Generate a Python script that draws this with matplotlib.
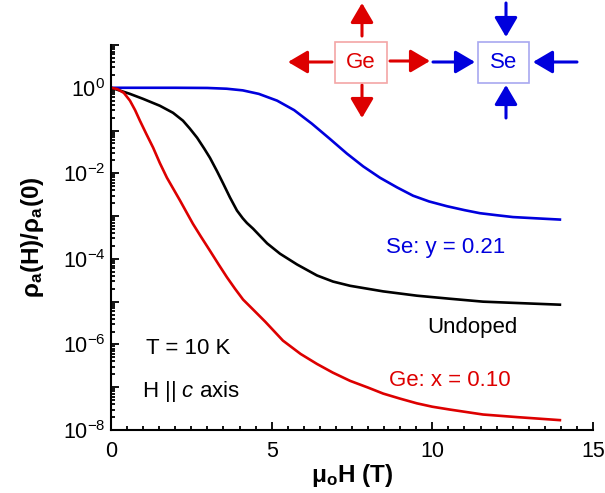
import math
import matplotlib
matplotlib.use("Agg")
import matplotlib.pyplot as plt
from matplotlib.patches import Rectangle
from matplotlib.ticker import FixedLocator, FuncFormatter, LogLocator, MultipleLocator

plt.rcParams.update({
    "font.family": ["Liberation Sans", "DejaVu Sans"],
    "mathtext.fontset": "custom", "mathtext.rm": "Liberation Sans",
    "mathtext.it": "Liberation Sans:italic", "mathtext.bf": "Liberation Sans:bold",
    "axes.linewidth": 1.5})

RED, BLUE, INK = "#dd0000", "#0000dd", "#000000"

# Ge: x = 0.10
H_ge = [0, 0.2, 0.4, 0.59, 0.75, 0.9, 1.1, 1.31, 1.52, 1.74, 1.95, 2.15, 2.35, 2.55,
        2.8, 3.08, 3.35, 3.61, 3.86, 4.11, 4.4, 4.8, 5.35, 5.9, 6.41, 6.9, 7.44, 8.0,
        8.47, 9.0, 9.52, 10.0, 10.55, 11.58, 12.64, 13.97]
rho_ge = [1.0, 0.93, 0.76, 0.50, 0.30, 0.17, 8.3e-2, 4.0e-2, 1.74e-2, 7.9e-3, 4.2e-3,
          2.3e-3, 1.23e-3, 6.6e-4, 3.3e-4, 1.55e-4, 7.4e-5, 3.7e-5, 2.0e-5, 1.12e-5,
          6.8e-6, 3.4e-6, 1.23e-6, 6.0e-7, 3.5e-7, 2.2e-7, 1.41e-7, 9.8e-8, 7.1e-8,
          5.4e-8, 4.2e-8, 3.5e-8, 3.0e-8, 2.3e-8, 2.0e-8, 1.7e-8]
# undoped
H_un = [0, 0.3, 0.59, 1.0, 1.52, 1.93, 2.24, 2.45, 2.68, 2.9, 3.08, 3.3, 3.49, 3.7,
        3.92, 4.1, 4.23, 4.42, 4.86, 5.26, 5.79, 6.41, 6.91, 7.44, 8.47, 9.52, 10.55,
        11.58, 12.64, 13.97]
rho_un = [1.0, 0.85, 0.72, 0.55, 0.38, 0.26, 0.17, 0.112, 6.8e-2, 3.8e-2, 2.3e-2,
          1.12e-2, 5.8e-3, 2.75e-3, 1.35e-3, 8.9e-4, 6.9e-4, 5.1e-4, 2.3e-4, 1.32e-4,
          7.4e-5, 4.1e-5, 2.95e-5, 2.35e-5, 1.74e-5, 1.38e-5, 1.17e-5, 1.0e-5, 9.3e-6,
          8.5e-6]
# Se: y = 0.21
H_se = [0, 1, 2, 3, 3.6, 4.1, 4.6, 5.17, 5.7, 6.25, 6.8, 7.34, 7.85, 8.37, 8.9, 9.4,
        9.9, 10.46, 11.0, 11.48, 12.0, 12.51, 13.2, 13.97]
rho_se = [1.0, 1.0, 1.0, 0.99, 0.95, 0.87, 0.72, 0.50, 0.30, 0.145, 6.5e-2, 2.9e-2,
          1.45e-2, 7.9e-3, 4.7e-3, 3.0e-3, 2.2e-3, 1.7e-3, 1.38e-3, 1.17e-3, 1.05e-3,
          9.5e-4, 8.9e-4, 8.3e-4]

W, Hpx = 605, 493
fig = plt.figure(figsize=(W / 100, Hpx / 100), dpi=100)
ax = fig.add_axes([111 / W, 1 - 430 / Hpx, 482 / W, 385 / Hpx])

ax.plot(H_se, rho_se, color=BLUE, lw=1.9)
ax.plot(H_un, rho_un, color=INK, lw=1.9)
ax.plot(H_ge, rho_ge, color=RED, lw=1.9)

ax.set_yscale("log")
ax.set_xlim(0, 15)
ax.set_ylim(1e-8, 1e1)
ax.spines["top"].set_visible(False)
ax.spines["right"].set_visible(False)
ax.xaxis.set_major_locator(MultipleLocator(5))
ax.xaxis.set_minor_locator(MultipleLocator(0.5))
ax.yaxis.set_major_locator(FixedLocator([10.0 ** k for k in range(-8, 2)]))
ax.yaxis.set_minor_locator(LogLocator(base=10, subs=range(2, 10), numticks=20))


def ylab(v, pos):
    e = int(round(math.log10(v)))
    return r"$10^{%d}$" % e if e % 2 == 0 and e <= 0 else ""


ax.yaxis.set_major_formatter(FuncFormatter(ylab))
ax.yaxis.set_minor_formatter(FuncFormatter(lambda v, p: ""))
ax.tick_params(which="both", direction="in", labelsize=15.5, width=1.3)
ax.tick_params(which="major", length=6)
ax.tick_params(which="minor", length=3)
ax.tick_params(axis="x", pad=8)
ax.tick_params(axis="y", pad=4)

ax.set_xlabel(r"μ$_{\mathbf{o}}$H (T)", fontsize=17.5, fontweight="bold", labelpad=0)
ax.set_ylabel(r"ρ$_{\mathbf{a}}$(H)/ρ$_{\mathbf{a}}$(0)", fontsize=17.5,
              fontweight="bold", labelpad=12)


def fx(px):
    return px / W


def fy(py):
    return 1 - py / Hpx


kw = dict(transform=fig.transFigure, ha="center", va="center", fontsize=16)
fig.text(fx(188), fy(348), "T = 10 K", color=INK, **kw)
fig.text(fx(191), fy(392), r"H || $\mathit{c}$ axis", color=INK, **kw)
fig.text(fx(446), fy(247), "Se: y = 0.21", color=BLUE, **kw)
fig.text(fx(472), fy(328), "Undoped", color=INK, **kw)
fig.text(fx(450), fy(380), "Ge: x = 0.10", color=RED, **kw)

# schematic boxes with strain arrows
fig.add_artist(Rectangle((fx(335), fy(83)), 52 / W, 41 / Hpx, transform=fig.transFigure,
                         fill=False, edgecolor="#f4a6a6", lw=1.2))
fig.add_artist(Rectangle((fx(478), fy(83)), 51 / W, 41 / Hpx, transform=fig.transFigure,
                         fill=False, edgecolor="#a8a8f0", lw=1.2))
fig.text(fx(361), fy(62), "Ge", color=RED, **kw)
fig.text(fx(504), fy(62), "Se", color=BLUE, **kw)

arrows = [
    ((362, 36), (362, 3), RED), ((362, 85), (362, 118), RED),
    ((332, 62), (288, 62), RED), ((390, 61), (430, 61), RED),
    ((506, 3), (506, 37), BLUE), ((506, 118), (506, 85), BLUE),
    ((433, 62), (475, 62), BLUE), ((577, 62), (533, 62), BLUE),
]
for (x0, y0), (x1, y1), c in arrows:
    ax.annotate("", xy=(fx(x1), fy(y1)), xytext=(fx(x0), fy(y0)),
                xycoords="figure fraction", textcoords="figure fraction",
                annotation_clip=False,
                arrowprops=dict(arrowstyle="-|>,head_length=0.85,head_width=0.5",
                                mutation_scale=14, color=c, lw=2.2,
                                shrinkA=0, shrinkB=0))

fig.savefig("out.png", dpi=100)
